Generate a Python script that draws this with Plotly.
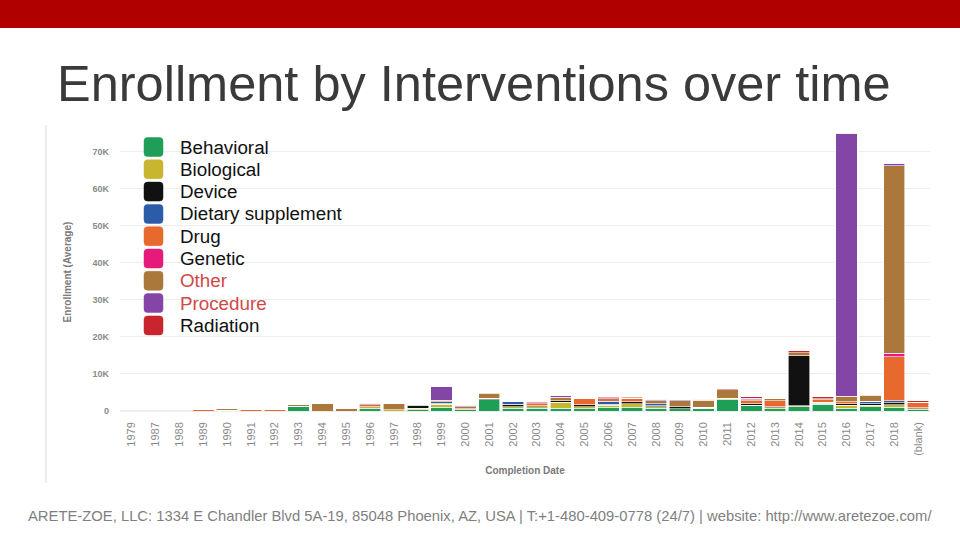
import plotly.graph_objects as go

# categories on the x axis
years = ["1979", "1987", "1988"] + [str(y) for y in range(1989, 2019)] + ["(blank)"]

# average enrollment per intervention type
behavioral = [0, 0, 0, 0, 0, 0, 0, 1300, 0, 0, 800, 0, 400, 1000, 300, 3000, 800, 800, 700, 600,
              1000, 1000, 800, 600, 700, 3000, 1600, 600, 1200, 1800, 800, 1200, 1000, 300]
biological = [0, 0, 0, 0, 200, 0, 0, 0, 0, 0, 300, 300, 300, 800, 300, 0, 300, 300, 1600, 500,
              500, 900, 300, 0, 0, 500, 0, 300, 200, 300, 800, 400, 700, 300]
device = [0, 0, 0, 0, 0, 0, 0, 0, 0, 0, 0, 0, 800, 300, 0, 400, 700, 300, 400, 600,
          300, 600, 300, 600, 300, 0, 300, 300, 13500, 300, 300, 400, 500, 300]
dietary = [0, 0, 0, 0, 0, 0, 0, 0, 0, 0, 0, 0, 300, 400, 0, 0, 800, 0, 0, 0,
           800, 0, 600, 0, 0, 0, 0, 0, 0, 0, 0, 600, 600, 0]
drug = [0, 0, 0, 300, 0, 300, 300, 0, 0, 0, 600, 0, 0, 0, 0, 0, 0, 600, 0, 1600,
        700, 900, 0, 0, 0, 0, 800, 1600, 0, 600, 600, 0, 11800, 1400]
genetic = [0] * 32 + [1000, 0]
other = [0, 0, 0, 0, 600, 0, 0, 400, 2000, 800, 0, 1800, 0, 400, 600, 1200, 0, 0, 1000, 0,
         0, 0, 800, 1500, 1900, 2200, 400, 500, 800, 300, 1500, 1600, 50500, 0]
procedure = [0, 0, 0, 0, 0, 0, 0, 0, 0, 0, 400, 0, 0, 3600, 300, 0, 0, 0, 400, 0,
             300, 0, 400, 300, 300, 0, 300, 0, 0, 0, 71000, 200, 800, 0]
radiation = [0, 0, 0, 0, 0, 0, 0, 0, 0, 0, 0, 0, 0, 0, 0, 200, 0, 300, 0, 0,
             300, 300, 0, 0, 0, 300, 400, 0, 500, 600, 0, 0, 0, 400]

series = [
    ("Behavioral", behavioral, "#1f9e58"),
    ("Biological", biological, "#c9b630"),
    ("Device", device, "#111111"),
    ("Dietary supplement", dietary, "#2c5ca8"),
    ("Drug", drug, "#e8692d"),
    ("Genetic", genetic, "#e51a7b"),
    ("Other", other, "#ab773b"),
    ("Procedure", procedure, "#8446a6"),
    ("Radiation", radiation, "#c9252e"),
]
red_names = {"Other", "Procedure"}

fig = go.Figure()
for name, vals, col in series:
    fig.add_trace(go.Bar(x=years, y=vals, name=name, marker_color=col,
                         marker_line_color="white", marker_line_width=0.6))

# plot area in pixels: x 120..930, y 133..411
W, H = 960, 540
L, R, T, B = 120, 930, 133, 411


def px(x):
    return (x - L) / (R - L)


def py(y):
    return (B - y) / (B - T)


shapes = [
    # red banner
    dict(type="rect", xref="paper", yref="paper", x0=px(0), x1=px(W), y0=py(28), y1=py(0),
         fillcolor="#b00000", line_width=0, layer="below"),
    # chart frame left edge
    dict(type="line", xref="paper", yref="paper", x0=px(46), x1=px(46), y0=py(125), y1=py(483),
         line=dict(color="#e6e6e6", width=1.5)),
]
annotations = [
    dict(text="Enrollment by Interventions over time", xref="paper", yref="paper",
         x=px(474), y=py(83), showarrow=False, xanchor="center", yanchor="middle",
         font=dict(family="Liberation Sans, Arial", size=50.5, color="#3a3a3a")),
    dict(text="ARETE-ZOE, LLC: 1334 E Chandler Blvd 5A-19, 85048 Phoenix, AZ, USA | "
              "T:+1-480-409-0778 (24/7) | website: http://www.aretezoe.com/",
         xref="paper", yref="paper", x=px(480), y=py(516), showarrow=False,
         xanchor="center", yanchor="middle",
         font=dict(family="Liberation Sans, Arial", size=14.8, color="#7f7f7f")),
]

# custom legend with rounded swatches (path in pixels around an anchor)
h, r = 9.5, 3.5
swatch = (f"M {-h + r},{-h} L {h - r},{-h} Q {h},{-h} {h},{-h + r} "
          f"L {h},{h - r} Q {h},{h} {h - r},{h} L {-h + r},{h} "
          f"Q {-h},{h} {-h},{h - r} L {-h},{-h + r} Q {-h},{-h} {-h + r},{-h} Z")
for i, (name, vals, col) in enumerate(series):
    cy = 147 + i * 22.3
    shapes.append(dict(type="path", xref="paper", yref="paper",
                       xsizemode="pixel", ysizemode="pixel",
                       xanchor=px(153.5), yanchor=py(cy), path=swatch,
                       fillcolor=col, line=dict(color=col, width=0.5)))
    annotations.append(dict(text=name, xref="paper", yref="paper", x=px(178), y=py(cy),
                            showarrow=False, xanchor="left", yanchor="middle",
                            font=dict(family="Liberation Sans, Arial", size=18.8,
                                      color="#d04848" if name in red_names else "#111111")))

fig.update_layout(
    barmode="stack",
    bargap=0.1,
    width=W, height=H,
    margin=dict(l=L, r=W - R, t=T, b=H - B),
    paper_bgcolor="white",
    plot_bgcolor="white",
    showlegend=False,
    shapes=shapes,
    annotations=annotations,
    font=dict(family="Liberation Sans, Arial"),
)
fig.update_xaxes(type="category", tickangle=-90, showgrid=False, showline=False,
                 ticks="", tickfont=dict(size=11, color="#8a8a8a"), ticklabelstandoff=8,
                 title=dict(text="<b>Completion Date</b>", font=dict(size=10, color="#7a7a7a"),
                            standoff=12))
fig.update_yaxes(range=[0, 75000], tickvals=[0, 10000, 20000, 30000, 40000, 50000, 60000, 70000],
                 ticktext=["<b>0</b>", "<b>10K</b>", "<b>20K</b>", "<b>30K</b>", "<b>40K</b>",
                           "<b>50K</b>", "<b>60K</b>", "<b>70K</b>"],
                 showgrid=True, gridcolor="#eeeeee", zeroline=True, zerolinecolor="#eeeeee",
                 tickfont=dict(size=9, color="#8a8a8a"), ticklabelstandoff=10,
                 title=dict(text="<b>Enrollment (Average)</b>",
                            font=dict(size=10, color="#7a7a7a"), standoff=18))

fig.write_html("out.html", config={"displayModeBar": False},
               post_script="document.body.style.margin='0';")
